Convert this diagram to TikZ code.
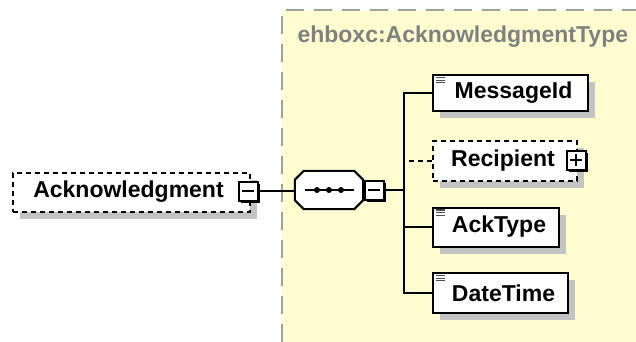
\documentclass[tikz,border=0pt]{standalone}
\usepackage{fontspec}
\setmainfont{Liberation Sans}
\usetikzlibrary{shadows}
\definecolor{bgyellow}{RGB}{255,253,208}
\definecolor{bordergray}{RGB}{160,160,160}
\definecolor{titlegray}{RGB}{128,128,128}
\definecolor{shadowgray}{RGB}{195,195,195}
\tikzset{
  lbl/.style={font=\fontsize{23}{25}\selectfont\bfseries},
  elem/.style={draw=black, line width=2pt, fill=white, rectangle, inner sep=0pt, lbl,
    general shadow={fill=shadowgray, opacity=1, shadow xshift=7pt, shadow yshift=-7pt}},
  optelem/.style={elem, dash pattern=on 5pt off 4pt},
  ctrl/.style={draw=black, line width=2pt, fill=white, rectangle, minimum size=19pt, inner sep=0pt,
    general shadow={fill=black, opacity=1, shadow xshift=2.5pt, shadow yshift=-2.5pt}},
  seqanchor/.style={rectangle, minimum width=68pt, minimum height=38pt, inner sep=0pt},
  seqshape/.style={draw=black, line width=2pt, fill=white},
  conn/.style={line width=2pt, black},
  sign/.style={line width=2pt, black},
  icon/.style={line width=1.1pt, black!70},
}
\newcommand\eqicon[1]{\draw[icon] ([shift={(4,3.5)}]#1.north west) -- ++(9,0) ++(-9,2.6) -- ++(9,0) ++(-9,2.6) -- ++(9,0);}
\newcommand\octpath[1]{([xshift=9pt]#1.north west) -- ([xshift=-9pt]#1.north east) -- ([yshift=-9pt]#1.north east) -- ([yshift=9pt]#1.south east) -- ([xshift=-9pt]#1.south east) -- ([xshift=9pt]#1.south west) -- ([yshift=9pt]#1.south west) -- ([yshift=-9pt]#1.north west) -- cycle}
\begin{document}
\begin{tikzpicture}[x=1pt,y=-1pt]
\useasboundingbox (0,0) rectangle (636,342);
\fill[white] (0,0) rectangle (636,342);
% complex type region
\fill[bgyellow] (282,10) rectangle (636,342);
\draw[bordergray, line width=1.8pt, dash pattern=on 18pt off 10pt] (282,342) -- (282,10) -- (636,10);
\node[anchor=west, text=titlegray, lbl] (title) at (294,37) {ehboxc:AcknowledgmentType};

% root element
\node[optelem, minimum width=237pt, minimum height=39pt] (ack) at (131.5,192) {\hspace*{-6pt}Acknowledgment};
\node[ctrl] (ackm) at (248,191) {};
\draw[sign] ([xshift=-6pt]ackm.center) -- ([xshift=6pt]ackm.center);

% sequence compositor
\node[seqanchor] (seq) at (329,190) {};
\fill[shadowgray, shift={(7,7)}] \octpath{seq};
\draw[seqshape] \octpath{seq};
\draw[sign] ([xshift=-24pt]seq.center) -- ([xshift=25pt]seq.center);
\fill ([xshift=-12pt]seq.center) circle (3pt);
\fill ([xshift=0pt]seq.center) circle (3pt);
\fill ([xshift=12pt]seq.center) circle (3pt);
\node[ctrl] (seqm) at (374,190) {};
\draw[sign] ([xshift=-6pt]seqm.center) -- ([xshift=6pt]seqm.center);

\draw[conn] (ackm.east) -- (ackm.east -| seq.west);
\coordinate (bus) at (404,190);
\draw[conn] (seqm.east) -- (bus);

% child elements
\node[elem, minimum width=155pt, minimum height=36pt] (msg) at (510.5,93) {\hspace*{6pt}MessageId};
\node[optelem, minimum width=144pt, minimum height=40pt] (rec) at (505,161) {Recipient\hspace*{4pt}};
\node[elem, minimum width=126pt, minimum height=39pt] (ackt) at (496,227) {\hspace*{6pt}AckType};
\node[elem, minimum width=135pt, minimum height=40pt] (dt) at (500.5,293) {\hspace*{6pt}DateTime};
\eqicon{msg}
\eqicon{ackt}
\eqicon{dt}
\node[ctrl] (recp) at (576,160) {};
\draw[sign] ([xshift=-6pt]recp.center) -- ([xshift=6pt]recp.center)
  ([yshift=-6pt]recp.center) -- ([yshift=6pt]recp.center);

\draw[conn] (msg.west) -| (bus) |- (dt.west);
\draw[conn] (bus) |- (ackt.west);
\draw[conn, dash pattern=on 5pt off 4pt] (rec.west) -- (rec.west -| bus);
\end{tikzpicture}
\end{document}
